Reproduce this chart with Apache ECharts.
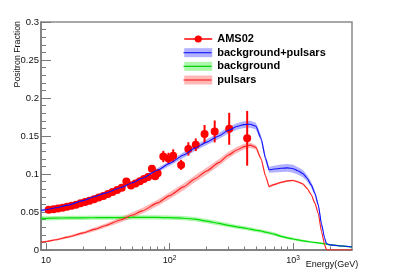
<!DOCTYPE html>
<html><head><meta charset="utf-8">
<script src="https://cdn.jsdelivr.net/npm/echarts@6/dist/echarts.min.js"></script>
<style>html,body{margin:0;padding:0;background:#fff}#c{width:409px;height:278px}</style>
</head><body><div id="c"></div>
<script>
// ---- model curves (energy grid in GeV) ----
const modelE       = [9.1, 10, 12, 15, 20, 25, 30, 40, 50, 60, 80, 100, 130, 160, 200, 250, 300, 350, 400, 450, 500, 550, 600, 640, 700, 800, 900, 1000, 1100, 1200, 1300, 1400, 1500, 1600, 1700, 1800, 1850, 1900, 2000, 2500, 3000];
const bgPulsars    = [0.0522, 0.053, 0.0555, 0.059, 0.065, 0.0703, 0.0748, 0.082, 0.0885, 0.0945, 0.105, 0.114, 0.125, 0.134, 0.142, 0.150, 0.1575, 0.1625, 0.165, 0.1655, 0.163, 0.147, 0.12, 0.1055, 0.1065, 0.1075, 0.108, 0.107, 0.104, 0.1005, 0.0945, 0.086, 0.075, 0.059, 0.034, 0.016, 0.0095, 0.0075, 0.0068, 0.0052, 0.0040];
const bgPulsarsErr = [0.0015, 0.0015, 0.0016, 0.0017, 0.0018, 0.002, 0.002, 0.0022, 0.0024, 0.0026, 0.003, 0.0032, 0.0035, 0.0037, 0.0038, 0.004, 0.0042, 0.0044, 0.0045, 0.0045, 0.0045, 0.0042, 0.004, 0.004, 0.0045, 0.005, 0.0052, 0.0052, 0.005, 0.0047, 0.0043, 0.0038, 0.0033, 0.0028, 0.0022, 0.0016, 0.0012, 0.001, 0.001, 0.0008, 0.0008];
const background   = [0.0415, 0.0417, 0.042, 0.0422, 0.0424, 0.0425, 0.0426, 0.0427, 0.0428, 0.0428, 0.0428, 0.0425, 0.0418, 0.0405, 0.038, 0.035, 0.0325, 0.0305, 0.029, 0.0275, 0.026, 0.025, 0.0235, 0.0225, 0.021, 0.018, 0.016, 0.0145, 0.0132, 0.012, 0.0112, 0.0105, 0.0099, 0.0093, 0.0087, 0.0081, 0.0078, 0.0075, 0.0068, 0.0052, 0.0040];
const backgroundErr= [0.0028, 0.0028, 0.0028, 0.0028, 0.0028, 0.0028, 0.0028, 0.0028, 0.0028, 0.0028, 0.0028, 0.0028, 0.0028, 0.0028, 0.0027, 0.0027, 0.0026, 0.0025, 0.0025, 0.0024, 0.0024, 0.0023, 0.0023, 0.0022, 0.0022, 0.002, 0.0019, 0.0018, 0.0017, 0.0016, 0.0015, 0.0014, 0.0013, 0.0012, 0.0011, 0.001, 0.001, 0.0009, 0.0009, 0.0008, 0.0008];
const pulsars      = [0.0105, 0.0112, 0.0135, 0.017, 0.0225, 0.0275, 0.032, 0.0395, 0.046, 0.0515, 0.062, 0.0715, 0.083, 0.0935, 0.104, 0.115, 0.125, 0.1315, 0.136, 0.138, 0.135, 0.12, 0.097, 0.0835, 0.086, 0.089, 0.091, 0.0915, 0.0895, 0.087, 0.081, 0.073, 0.062, 0.048, 0.024, 0.007, 0.0015, 0, 0, 0, 0];
const pulsarsErr   = [0.001, 0.001, 0.0013, 0.0016, 0.002, 0.0024, 0.0027, 0.0032, 0.0036, 0.0039, 0.0042, 0.0044, 0.0045, 0.0045, 0.0045, 0.0044, 0.0042, 0.004, 0.0037, 0.0034, 0.003, 0.0026, 0.0022, 0.0018, 0.0014, 0.0012, 0.0012, 0.0012, 0.0012, 0.0012, 0.0011, 0.001, 0.001, 0.0009, 0.0008, 0.0006, 0.0004, 0.0003, 0.0003, 0.0003, 0.0003];

// ---- AMS02 data ----
const amsE   = [10.5, 11.5, 12.5, 13.6, 14.8, 16.1, 17.5, 19.0, 20.7, 22.5, 24.5, 26.7, 29.1, 31.7, 34.5, 37.6, 41.0, 44.7, 48.7, 53.0, 57.5, 62.0, 67.0, 72.0, 76.5, 80.0, 89.0, 98.0, 107, 124, 142, 163, 192, 232, 304, 425];
const amsF   = [0.0528, 0.0536, 0.0545, 0.0556, 0.0570, 0.0583, 0.0597, 0.0616, 0.0632, 0.0648, 0.0668, 0.0690, 0.0712, 0.0738, 0.0762, 0.0790, 0.0820, 0.0900, 0.0850, 0.0875, 0.0905, 0.0935, 0.0960, 0.1070, 0.0970, 0.1010, 0.1230, 0.1205, 0.1240, 0.1120, 0.1330, 0.1385, 0.1525, 0.1560, 0.1595, 0.1470];
const amsErr = [0.001, 0.001, 0.001, 0.001, 0.0011, 0.0011, 0.0012, 0.0012, 0.0013, 0.0013, 0.0014, 0.0015, 0.0016, 0.0017, 0.0018, 0.002, 0.0022, 0.0024, 0.0026, 0.0028, 0.003, 0.0032, 0.0035, 0.004, 0.004, 0.0045, 0.0075, 0.0075, 0.0085, 0.0066, 0.0088, 0.0083, 0.012, 0.0144, 0.021, 0.036];

// ---- ticks ----
const xMajorTicks = [10, 100, 1000];
const xMinorTicks = [20, 30, 40, 50, 60, 70, 80, 90, 200, 300, 400, 500, 600, 700, 800, 900, 2000];
const yTickStep = 0.05;

const FONT = 'Liberation Sans';
const AXC = '#7a7a7a';
const pairs = (xs, ys) => xs.map((x, i) => [x, ys[i]]);

function bandSeries(key, vals, errs, color) {
  return {
    type: 'custom', name: key + '_band', z: 1, silent: true, clip: true,
    data: modelE.map((e, i) => [e, vals[i] - errs[i], vals[i] + errs[i]]),
    encode: { x: 0, y: [1, 2] },
    renderItem: (params, api) => {
      if (params.dataIndex !== 0) return null;
      const n = modelE.length, upper = [], lower = [];
      for (let i = 0; i < n; i++) {
        upper.push(api.coord([modelE[i], vals[i] + errs[i]]));
        lower.push(api.coord([modelE[i], vals[i] - errs[i]]));
      }
      return { type: 'polygon', shape: { points: upper.concat(lower.reverse()) }, style: { fill: color, stroke: null } };
    }
  };
}
function lineSeries(name, vals, color, w) {
  return { type: 'line', name: name, data: pairs(modelE, vals), symbol: 'none',
    lineStyle: { color: color, width: w }, itemStyle: { color: color }, z: 4, smooth: 0.2, smoothMonotone: 'x' };
}

const BLUE_BAND = 'rgba(70,70,255,0.42)', GREEN_BAND = 'rgba(40,235,40,0.38)', RED_BAND = 'rgba(255,40,40,0.33)';
const thinLine = 'path://M0,0H28V1.2H0Z';
const legendBase = { orient: 'vertical', left: 183.5, top: 32.5, padding: 0, itemWidth: 28, itemHeight: 9, itemGap: 0.67, selectedMode: false };
const legendText = { fontFamily: FONT, fontWeight: 'bold', fontSize: 11, lineHeight: 13, color: '#000' };

const chart = echarts.init(document.getElementById('c'), null, { renderer: 'canvas' });
chart.setOption({
  animation: false,
  backgroundColor: '#fff',
  grid: { left: 41, right: 57, top: 22, bottom: 28, show: true, borderColor: '#8a8a8a', borderWidth: 1.5, containLabel: false, outerBoundsMode: 'none' },
  xAxis: [
    { type: 'log', logBase: 10, min: 9.1, max: 3000, position: 'bottom',
      axisLine: { show: true, lineStyle: { color: AXC, width: 1.5 } },
      axisTick: { show: true, inside: true, length: 7, customValues: xMajorTicks, lineStyle: { color: AXC, width: 1 } },
      axisLabel: { show: true, customValues: xMajorTicks, margin: 5, color: '#111',
        formatter: v => { const p = Math.round(Math.log10(v)); return p === 1 ? '{b|10}' : '{b|10}{s|' + p + '}'; },
        rich: { b: { fontFamily: FONT, fontSize: 9, lineHeight: 11, color: '#111' }, s: { fontFamily: FONT, fontSize: 6.5, lineHeight: 7, verticalAlign: 'top', color: '#111' } } },
      splitLine: { show: false },
      name: 'Energy(GeV)', nameLocation: 'end', nameGap: 0,
      nameTextStyle: { fontFamily: FONT, fontSize: 9, color: '#111', align: 'right', verticalAlign: 'top', padding: [10, 1, 0, 0] } },
    { type: 'log', logBase: 10, min: 9.1, max: 3000, position: 'bottom',
      axisLine: { show: false }, axisLabel: { show: false }, splitLine: { show: false },
      axisTick: { show: true, inside: true, length: 3.5, customValues: xMinorTicks, lineStyle: { color: AXC, width: 1 } } }
  ],
  yAxis: { type: 'value', min: 0, max: 0.3, interval: yTickStep,
    axisLine: { show: true, lineStyle: { color: AXC, width: 1.5 } },
    axisTick: { show: true, inside: true, length: 10, lineStyle: { color: AXC, width: 1 } },
    minorTick: { show: true, splitNumber: 5, length: 5, lineStyle: { color: AXC, width: 1 } },
    splitLine: { show: false },
    axisLabel: { margin: 2, fontFamily: FONT, fontSize: 9.5, color: '#111' } },
  legend: [
    Object.assign({}, legendBase, { textStyle: legendText, data: [
      { name: 'AMS02', lineStyle: { color: '#ff0000', width: 1.5, opacity: 1 }, itemStyle: { color: '#ff0000' } },
      { name: 'background+pulsars', icon: 'rect', itemStyle: { color: BLUE_BAND } },
      { name: 'background', icon: 'rect', itemStyle: { color: GREEN_BAND } },
      { name: 'pulsars', icon: 'rect', itemStyle: { color: RED_BAND } } ] }),
    Object.assign({}, legendBase, { textStyle: Object.assign({}, legendText, { color: 'rgba(0,0,0,0)' }), data: [
      { name: 'AMS02', icon: 'rect', itemStyle: { color: 'rgba(0,0,0,0)' } },
      { name: 'background+pulsars', icon: thinLine, itemStyle: { color: '#2020ff' } },
      { name: 'background', icon: thinLine, itemStyle: { color: '#00cc00' } },
      { name: 'pulsars', icon: thinLine, itemStyle: { color: '#ff2020' } } ] })
  ],
  graphic: [
    { type: 'text', x: 17.5, y: 21, rotation: Math.PI / 2,
      style: { text: 'Positron Fraction', fontFamily: FONT, fontSize: 8.8, fill: '#111', align: 'right', verticalAlign: 'middle' } }
  ],
  series: [
    bandSeries('bg', background, backgroundErr, GREEN_BAND),
    bandSeries('ps', pulsars, pulsarsErr, RED_BAND),
    bandSeries('bp', bgPulsars, bgPulsarsErr, BLUE_BAND),
    {
      type: 'custom', name: 'AMS02 errors', z: 2, silent: true,
      data: amsE.map((e, i) => [e, amsF[i] - amsErr[i], amsF[i] + amsErr[i]]),
      encode: { x: 0, y: [1, 2] },
      renderItem: (params, api) => {
        const lo = api.coord([api.value(0), api.value(1)]);
        const hi = api.coord([api.value(0), api.value(2)]);
        return { type: 'line', shape: { x1: lo[0], y1: lo[1], x2: hi[0], y2: hi[1] }, style: { stroke: '#ff0000', lineWidth: 2 } };
      }
    }, {
      type: 'line', name: 'AMS02', data: pairs(amsE, amsF), symbol: 'circle', symbolSize: 8, showSymbol: true, showAllSymbol: true,
      lineStyle: { opacity: 0 }, itemStyle: { color: '#ff0000' }, z: 3
    },
    lineSeries('background', background, '#00dd00', 1.2),
    lineSeries('pulsars', pulsars, '#ff2020', 1.1),
    lineSeries('background+pulsars', bgPulsars, '#1010ff', 1.1)
  ]
});
</script></body></html>
